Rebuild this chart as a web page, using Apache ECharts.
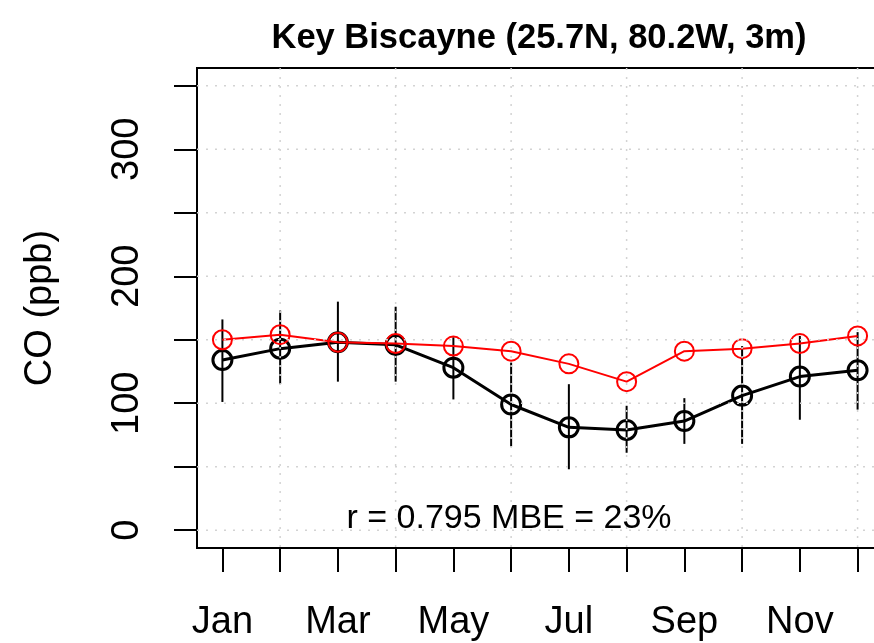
<!DOCTYPE html>
<html>
<head>
<meta charset="utf-8">
<script src="https://cdn.jsdelivr.net/npm/echarts@6/dist/echarts.min.js"></script>
<style>
  html, body { margin: 0; padding: 0; background: #fff; }
  #chart { width: 874px; height: 643px; }
</style>
</head>
<body>
<div id="chart"></div>
<script>
// monthly CO, Key Biscayne
const months = ['Jan', 'Feb', 'Mar', 'Apr', 'May', 'Jun', 'Jul', 'Aug', 'Sep', 'Oct', 'Nov', 'Dec'];
const obsCO = [134, 143, 148, 146, 128, 99, 81, 79, 86, 106, 121, 126];
const obsLow = [101, 115, 117, 117, 103, 66, 48, 61, 68, 68, 87, 95];
const obsHigh = [166, 173, 180, 176, 152, 132, 115, 98, 104, 145, 153, 156];
const modelCO = [150, 154, 148, 147, 145, 141, 131, 117, 141, 143, 147, 153];
const yTicks = [0, 50, 100, 150, 200, 250, 300, 350];
const yLabels = [0, 100, 200, 300];
const xTicks = [1, 2, 3, 4, 5, 6, 7, 8, 9, 10, 11, 12];
const xLabels = [1, 3, 5, 7, 9, 11];
const gridX = [2, 4, 6, 8, 10, 12];

const FONT = '"Liberation Sans", Arial, Helvetica, sans-serif';

const chart = echarts.init(document.getElementById('chart'));

const pairs = (arr) => arr.map((v, i) => [i + 1, v]);

const option = {
  animation: false,
  backgroundColor: '#fff',
  grid: {
    left: 197, top: 68, width: 686, height: 480,
    outerBoundsMode: 'none', containLabel: false,
    show: true, borderColor: '#000', borderWidth: 2, backgroundColor: 'transparent'
  },
  xAxis: {
    type: 'value', min: 0.56, max: 12.44,
    axisLine: { show: true, onZero: false, lineStyle: { color: '#000', width: 2 } },
    axisTick: { show: true, customValues: xTicks, length: 24, lineStyle: { color: '#000', width: 2 } },
    axisLabel: {
      customValues: xLabels, margin: 56,
      formatter: (v) => months[Math.round(v) - 1],
      color: '#000', fontSize: 38, fontFamily: FONT
    },
    splitLine: { show: false }
  },
  yAxis: {
    type: 'value', min: -14, max: 364,
    name: 'CO (ppb)', nameLocation: 'middle', nameRotate: 90, nameGap: 137,
    nameTextStyle: { color: '#000', fontSize: 38, fontFamily: FONT },
    axisLine: { show: true, onZero: false, lineStyle: { color: '#000', width: 2 } },
    axisTick: { show: true, customValues: yTicks, length: 23, lineStyle: { color: '#000', width: 2 } },
    axisLabel: {
      customValues: yLabels, rotate: 90, margin: 50,
      color: '#000', fontSize: 38, fontFamily: FONT
    },
    splitLine: { show: false }
  },
  graphic: [
    {
      type: 'text', x: 539, y: 38, z: 100,
      style: {
        text: 'Key Biscayne (25.7N, 80.2W, 3m)', fill: '#000',
        font: 'bold 34.5px ' + FONT, textAlign: 'center', textVerticalAlign: 'middle'
      }
    },
    {
      type: 'text', x: 509, y: 519, z: 100,
      style: {
        text: 'r = 0.795 MBE = 23%', fill: '#000',
        font: '34px ' + FONT, textAlign: 'center', textVerticalAlign: 'middle'
      }
    }
  ],
  series: [
    {
      name: 'obs', type: 'line', z: 2,
      data: pairs(obsCO),
      symbol: 'circle', symbolSize: 19,
      lineStyle: { color: '#000', width: 3 },
      itemStyle: { color: 'transparent', borderColor: '#000', borderWidth: 3 }
    },
    {
      name: 'obsErr', type: 'custom', z: 3,
      data: obsLow.map((v, i) => [i + 1, v, obsHigh[i]]),
      encode: { x: 0, y: [1, 2] },
      renderItem: (params, api) => {
        const p1 = api.coord([api.value(0), api.value(1)]);
        const p2 = api.coord([api.value(0), api.value(2)]);
        return {
          type: 'line',
          shape: { x1: p1[0], y1: p1[1], x2: p2[0], y2: p2[1] },
          style: { stroke: '#000', lineWidth: 2 }
        };
      }
    },
    {
      name: 'model', type: 'line', z: 4,
      data: pairs(modelCO),
      symbol: 'circle', symbolSize: 19,
      lineStyle: { color: '#ff0000', width: 2 },
      itemStyle: { color: 'transparent', borderColor: '#ff0000', borderWidth: 2 }
    },
    {
      // dotted grid drawn on top, as in the original; 0 = horizontal, 1 = vertical
      name: 'grid', type: 'custom', z: 10, silent: true,
      data: yTicks.map((v) => [0, v]).concat(gridX.map((v) => [1, v])),
      encode: { x: -1, y: -1 },
      renderItem: (params, api) => {
        const cs = params.coordSys;
        const kind = api.value(0);
        const v = api.value(1);
        let shape;
        if (kind === 0) {
          const y = api.coord([1, v])[1];
          shape = { x1: cs.x, y1: y, x2: cs.x + cs.width, y2: y };
        } else {
          const x = api.coord([v, 0])[0];
          shape = { x1: x, y1: cs.y, x2: x, y2: cs.y + cs.height };
        }
        return {
          type: 'line', shape,
          style: { stroke: '#d3d3d3', lineWidth: 1.5, lineDash: [2, 7] }
        };
      }
    }
  ]
};

chart.setOption(option);
</script>
</body>
</html>
